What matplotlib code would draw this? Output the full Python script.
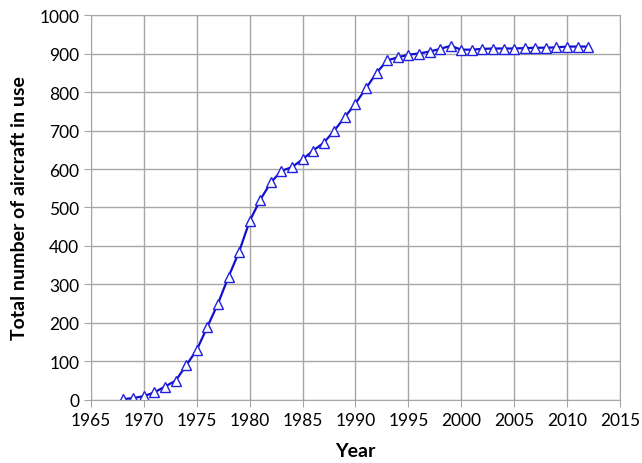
import numpy as np
import matplotlib
matplotlib.use('Agg')
import matplotlib.pyplot as plt

plt.rcParams['font.family'] = ['Lato', 'DejaVu Sans']

## Datos
anios = list(range(1968, 2013))
aviones = [2, 5, 10, 20, 35, 50, 90, 130, 190, 250,
           320, 385, 465, 520, 565, 595, 605, 625, 648, 668,
           700, 735, 770, 810, 850, 882, 890, 897, 900, 905,
           912, 920, 910, 910, 912, 913, 913, 913, 914, 915,
           915, 916, 918, 918, 918]

fig = plt.figure(figsize=(6.42, 4.64), dpi=100)
ax = fig.add_axes([0.1417, 0.1358, 0.8240, 0.8297])

ax.plot(anios, aviones, color='#1010CC', linewidth=1.6, marker='^',
        markersize=7, markerfacecolor='white', markeredgecolor='#2020DD',
        markeredgewidth=1.0)

ax.set_xlim(1965, 2015)
ax.set_ylim(0, 1000)
ax.set_xticks(range(1965, 2016, 5))
ax.set_yticks(range(0, 1001, 100))
ax.grid(True, color='#A6A6A6', linewidth=1.0)
ax.set_axisbelow(True)
for s in ax.spines.values():
    s.set_color('#A6A6A6')
ax.tick_params(colors='#A6A6A6', labelcolor='black', labelsize=12.5, length=5)

ax.set_xlabel('Year', fontsize=14, fontweight='bold', labelpad=10)
ax.set_ylabel('Total number of aircraft in use', fontsize=14, fontweight='bold', labelpad=8)

fig.savefig('out.png', dpi=100)
